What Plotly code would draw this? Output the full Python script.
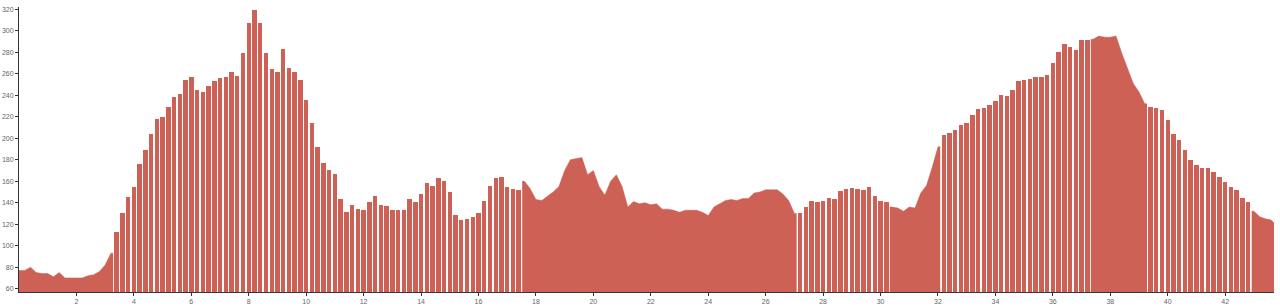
import plotly.graph_objects as go

# Elevation profile: distance (km) sampled every 0.2 km, last point at 43.7 km
DIST = [round(i * 0.2, 1) for i in range(219)] + [43.7]
ELEV = [
    77, 77, 80, 75, 74, 74, 71, 75, 70, 70,
    70, 70, 72, 73, 76, 82, 93, 113, 130, 145,
    155, 176, 189, 204, 218, 220, 229, 238, 241, 254,
    257, 245, 243, 249, 253, 256, 257, 262, 258, 279,
    307, 319, 307, 279, 264, 262, 283, 265, 262, 254,
    236, 214, 192, 177, 170, 167, 143, 131, 138, 134,
    133, 141, 146, 138, 137, 133, 133, 133, 143, 141,
    148, 158, 156, 163, 160, 150, 129, 124, 125, 127,
    130, 142, 156, 163, 164, 155, 153, 152, 160, 153,
    143, 142, 146, 150, 155, 170, 180, 181, 182, 166,
    170, 155, 147, 160, 166, 155, 136, 141, 139, 140,
    138, 139, 134, 134, 133, 131, 133, 133, 133, 131,
    128, 136, 139, 142, 143, 142, 144, 144, 149, 150,
    152, 152, 152, 148, 142, 130, 130, 136, 142, 141,
    142, 144, 143, 151, 153, 154, 153, 152, 155, 146,
    142, 141, 136, 135, 132, 136, 135, 149, 156, 173,
    192, 203, 205, 208, 212, 214, 222, 227, 228, 231,
    235, 240, 239, 245, 253, 254, 255, 257, 257, 259,
    270, 280, 288, 285, 282, 291, 291, 292, 295, 294,
    294, 295, 279, 265, 251, 243, 232, 229, 228, 226,
    217, 204, 198, 189, 180, 175, 172, 172, 169, 164,
    159, 155, 152, 144, 141, 132, 127, 125, 124, 121,
]
X_TICKS = list(range(2, 43, 2))
Y_TICKS = list(range(60, 321, 20))

# distance ranges drawn as continuous fill (the rest are separate bars)
SOLID_RANGES = [(0.0, 3.2), (17.6, 27.0), (30.4, 32.0), (37.4, 39.2), (43.0, 43.7)]

COLOR = "#cd6155"
BAR_W = 0.155
HALF = BAR_W / 2

def in_solid(d):
    return any(a - 1e-6 <= d <= b + 1e-6 for a, b in SOLID_RANGES)

bar_x = [d for d in DIST if not in_solid(d)]
bar_y = [e for d, e in zip(DIST, ELEV) if not in_solid(d)]

fig = go.Figure()
fig.add_trace(go.Bar(x=bar_x, y=bar_y, width=[BAR_W] * len(bar_x),
                     marker=dict(color=COLOR, line=dict(width=0)),
                     hoverinfo="x+y"))

for a, b in SOLID_RANGES:
    seg = [(d, e) for d, e in zip(DIST, ELEV) if a - 1e-6 <= d <= b + 1e-6]
    if not seg:
        continue
    xs = [seg[0][0] - HALF] + [d for d, _ in seg] + [seg[-1][0] + HALF]
    ys = [seg[0][1]] + [e for _, e in seg] + [seg[-1][1]]
    fig.add_trace(go.Scatter(x=xs, y=ys, mode="lines", fill="tozeroy",
                             fillcolor=COLOR, line=dict(color=COLOR, width=0.5),
                             hoverinfo="x+y"))

axis_font = dict(family="Liberation Sans, Arial, sans-serif", size=7, color="#666")
fig.update_layout(
    width=1280, height=306,
    margin=dict(l=19, r=6, t=7, b=14),
    paper_bgcolor="white", plot_bgcolor="white",
    showlegend=False, bargap=0,
    xaxis=dict(range=[0, 43.7], tickvals=X_TICKS, ticktext=[str(v) for v in X_TICKS],
               showgrid=False, zeroline=False, showline=True, linecolor="#333",
               linewidth=1, ticks="outside", ticklen=3, tickcolor="#333",
               tickfont=axis_font, automargin=False),
    yaxis=dict(range=[56.9, 322.1], tickvals=Y_TICKS, showgrid=False, zeroline=False,
               showline=True, linecolor="#333", linewidth=1, ticks="outside",
               ticklen=3, tickcolor="#333", tickfont=axis_font, automargin=False),
)

fig.write_html("out.html")
